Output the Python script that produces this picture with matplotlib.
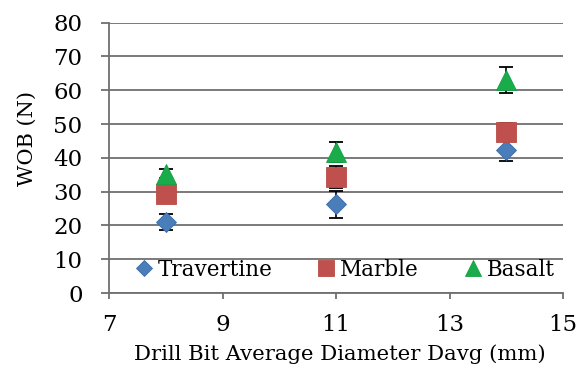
import matplotlib
matplotlib.use("Agg")
import matplotlib.pyplot as plt

diameters = [8, 11, 14]
travertine = [21.0, 26.2, 42.2]
travertine_err = [2.5, 4.0, 3.0]
marble = [29.3, 34.4, 47.7]
marble_err = [2.0, 3.2, 2.5]
basalt = [35.3, 41.8, 63.0]
basalt_err = [1.4, 2.9, 3.9]
series_names = ["Travertine", "Marble", "Basalt"]
xticks = [7, 9, 11, 13, 15]
yticks = [0, 10, 20, 30, 40, 50, 60, 70, 80]

plt.rcParams['font.family'] = ['DejaVu Serif']
W, H = 586, 378
fig = plt.figure(figsize=(W/100, H/100), dpi=100)
L, R, T, B = 109, 563, 22.7, 293
ax = fig.add_axes([L/W, 1-B/H, (R-L)/W, (B-T)/H])

gray = '#6f6f6f'
colors = ['#4a7ebb', '#c0504d', '#1aab4b']
edges = ['#3a6aa5', '#b84a47', '#14a044']
markers = ['D', 's', '^']
sizes = [9.8, 14, 14.5]
data = [(travertine, travertine_err), (marble, marble_err), (basalt, basalt_err)]

for i, (vals, errs) in enumerate(data):
    ax.errorbar(diameters, vals, yerr=errs, fmt='none', ecolor='black',
                elinewidth=1.2, capsize=4.8, capthick=1.3, zorder=2)
    ax.plot(diameters, vals, linestyle='none', marker=markers[i], markersize=sizes[i],
            markerfacecolor=colors[i], markeredgecolor=edges[i], markeredgewidth=0.6,
            label=series_names[i], zorder=3)

ax.set_xlim(7, 15)
ax.set_ylim(0, 80)
ax.set_xticks(xticks)
ax.set_yticks(yticks)
ax.yaxis.grid(True, color=gray, linewidth=1.3)
ax.set_axisbelow(True)
for s in ['top', 'right']:
    ax.spines[s].set_visible(False)
for s in ['left', 'bottom']:
    ax.spines[s].set_color(gray)
    ax.spines[s].set_linewidth(1.3)
ax.tick_params(axis='y', direction='out', length=6, width=1.3, color=gray,
               pad=13, labelsize=16.5)
ax.tick_params(axis='x', direction='out', length=4, width=1.3, color=gray,
               pad=11, labelsize=16.5)

leg = ax.legend(loc='center', bbox_to_anchor=(0.515, 0.085), ncol=3, frameon=False,
                fontsize=15.5, handletextpad=0.05, columnspacing=1.9,
                handlelength=1.2, markerscale=0.8, borderaxespad=0)

fig.text(27.5/W, 1-138/H, 'WOB (N)', rotation=90, ha='center', va='center', fontsize=15)
fig.text(340/W, 1-354/H, 'Drill Bit Average Diameter Davg (mm)', ha='center',
         va='center', fontsize=15.3)

fig.savefig('out.png', dpi=100)
